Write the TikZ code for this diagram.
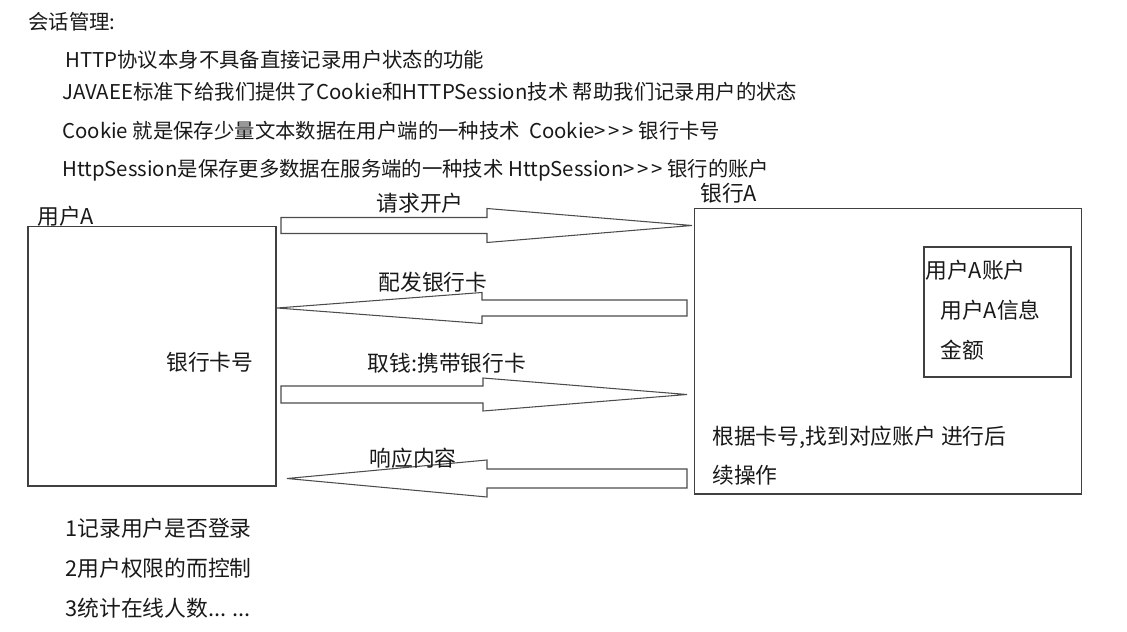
\documentclass[tikz,border=0pt]{standalone}
\usepackage{fontspec}
\setmainfont{Noto Sans CJK SC}
\usetikzlibrary{positioning}

% block arrow: flat end x, head base x, tip x, centre y, shaft half, head half
\newcommand\blockarrow[6]{%
  \draw[blk] (#1,#4-#5) -- (#2,#4-#5) -- (#2,#4-#6) -- (#3,#4)
    -- (#2,#4+#6) -- (#2,#4+#5) -- (#1,#4+#5) -- cycle;}
\newcommand\gtgt{>\kern1.5pt{}>\kern1.5pt{}>}

\begin{document}
\begin{tikzpicture}[x=0.02cm,y=-0.02cm,
	note/.style={anchor=west,inner sep=0pt,text=black!90,font=\fontsize{11.6}{14}\selectfont},
	lbl/.style={anchor=west,inner sep=0pt,text=black!90,font=\fontsize{12.4}{15}\selectfont},
	msg/.style={inner sep=0pt,text=black!90,font=\fontsize{12.4}{15}\selectfont},
	box/.style={draw=black!75,line width=0.6pt,inner sep=0pt},
	blk/.style={draw=black!70,line width=0.6pt,line join=miter}]
	
	\useasboundingbox (0,0) rectangle (1127,632);
	
	% --- header notes ---
	\node[note] (title) at (28,22) {会话管理:};
	\node[note] (n1) at (65,60) {HTTP协议本身不具备直接记录用户状态的功能};
	\node[note] (n2) at (62,92) {JAVAEE标准下给我们提供了Cookie和HTTPSession技术 帮助我们记录用户的状态};
	\node[note] (n3) at (62,131) {Cookie 就是保存少量文本数据在用户端的一种技术\ \ Cookie\gtgt{} 银行卡号};
	\node[note] (n4) at (62,170) {HttpSession是保存更多数据在服务端的一种技术 HttpSession\gtgt{} 银行的账户};
	
	% --- user side ---
	\node[box,minimum width=4.96cm,minimum height=5.2cm] (user) at (152,356) {};
	\node[lbl] (userA) at (37,216) {用户A};
	\node[lbl] (card) at (166,362) {银行卡号};
	
	% --- bank side ---
	\node[box,minimum width=7.76cm,minimum height=5.72cm] (bank) at (888,351) {};
	\node[lbl] (bankA) at (700,193) {银行A};
	\node[box,minimum width=2.94cm,minimum height=2.6cm] (acct) at (997.5,312) {};
	\node[lbl] (acctA) at (925,270) {用户A账户};
	\node[lbl] (info) at (940,310) {用户A信息};
	\node[lbl] (money) at (940,350) {金额};
	\node[lbl] (find1) at (712,437) {根据卡号,找到对应账户 进行后};
	\node[lbl] (find2) at (712,475) {续操作};
	
	% --- messages between the two ---
	\blockarrow{281}{487}{692}{225.5}{8}{17}
	\node[msg] (open) at (420,203) {请求开户};
	\blockarrow{687}{482}{277}{308}{8}{15.5}
	\node[msg] (issue) at (433,282) {配发银行卡};
	\blockarrow{281}{483}{687}{394.5}{8.5}{16.5}
	\node[msg] (draw) at (447,363) {取钱:携带银行卡};
	\blockarrow{687}{487}{287}{478.5}{9.5}{18.5}
	\node[msg] (resp) at (413,458) {响应内容};
	
	% --- uses ---
	\node[lbl] (u1) at (65,528) {1记录用户是否登录};
	\node[lbl] (u2) at (65,568) {2用户权限的而控制};
	\node[lbl] (u3) at (65,608) {3统计在线人数... ...};
	
\end{tikzpicture}
\end{document}
